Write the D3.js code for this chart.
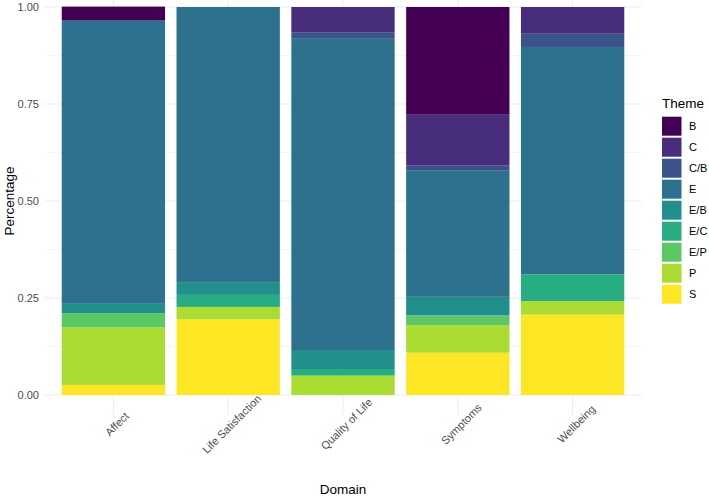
<!DOCTYPE html>
<html>
<head>
<meta charset="utf-8">
<script src="https://cdn.jsdelivr.net/npm/d3@7"></script>
<style>
  body { margin: 0; background: #fff; }
  text { font-family: "Liberation Sans", Arial, sans-serif; }
</style>
</head>
<body>
<div id="chart"></div>
<script>
const domains = ["Affect", "Life Satisfaction", "Quality of Life", "Symptoms", "Wellbeing"];
const themes = ["B", "C", "C/B", "E", "E/B", "E/C", "E/P", "P", "S"];
const themeColors = ["#440154", "#472D7B", "#3B528B", "#2C728E", "#21908C", "#27AD81", "#5DC863", "#AADC32", "#FDE725"];

// share of each theme per domain (order follows domains)
const B   = [0.036, 0,     0,     0.276, 0];
const C   = [0,     0,     0.065, 0.133, 0.069];
const CB  = [0,     0,     0.017, 0.013, 0.034];
const E   = [0.730, 0.709, 0.802, 0.325, 0.586];
const EB  = [0.024, 0.033, 0.049, 0.048, 0];
const EC  = [0,     0.031, 0.017, 0,     0.069];
const EP  = [0.037, 0,     0,     0.025, 0];
const P   = [0.148, 0.032, 0.050, 0.071, 0.035];
const S   = [0.026, 0.195, 0,     0.109, 0.207];

const yTicks = [0, 0.25, 0.5, 0.75, 1];
const yTickLabels = ["0.00", "0.25", "0.50", "0.75", "1.00"];

const width = 709, height = 496;
const series = [B, C, CB, E, EB, EC, EP, P, S];

// rows for the stack
const rows = domains.map((d, i) => {
  const r = { domain: d };
  themes.forEach((t, j) => r[t] = series[j][i]);
  return r;
});

const svg = d3.select("#chart").append("svg")
  .attr("width", width).attr("height", height);

// panel
const x = d3.scaleBand().domain(domains).range([44.5, 641.5]).paddingInner(0.1).paddingOuter(0.15);
const y = d3.scaleLinear().domain([0, 1]).range([395, 7]);

const panelTop = y(1.05), panelBottom = y(-0.05);

// minor grid
svg.append("g").selectAll("line")
  .data([0.125, 0.375, 0.625, 0.875])
  .enter().append("line")
    .attr("x1", 44.5).attr("x2", 641.5)
    .attr("y1", d => y(d)).attr("y2", d => y(d))
    .attr("stroke", "#ebebeb").attr("stroke-width", 0.5);

// major grid
svg.append("g").selectAll("line")
  .data(yTicks)
  .enter().append("line")
    .attr("x1", 44.5).attr("x2", 641.5)
    .attr("y1", d => y(d)).attr("y2", d => y(d))
    .attr("stroke", "#ebebeb").attr("stroke-width", 1);

svg.append("g").selectAll("line")
  .data(domains)
  .enter().append("line")
    .attr("x1", d => x(d) + x.bandwidth() / 2).attr("x2", d => x(d) + x.bandwidth() / 2)
    .attr("y1", panelTop).attr("y2", panelBottom)
    .attr("stroke", "#ebebeb").attr("stroke-width", 1);

// stacked bars, S at bottom, B on top
const stack = d3.stack().keys(themes.slice().reverse());
const color = d3.scaleOrdinal().domain(themes).range(themeColors);

svg.append("g").selectAll("g")
  .data(stack(rows))
  .enter().append("g")
    .attr("fill", d => color(d.key))
  .selectAll("rect")
  .data(d => d)
  .enter().append("rect")
    .attr("x", d => x(d.data.domain))
    .attr("width", x.bandwidth())
    .attr("y", d => y(d[1]))
    .attr("height", d => y(d[0]) - y(d[1]));

// y axis labels
svg.append("g").selectAll("text")
  .data(yTicks)
  .enter().append("text")
    .attr("x", 39)
    .attr("y", d => y(d))
    .attr("dy", "0.35em")
    .attr("text-anchor", "end")
    .attr("font-size", 11)
    .attr("fill", "#4d4d4d")
    .text((d, i) => yTickLabels[i]);

// x axis labels, rotated 45, centred
svg.append("g").selectAll("text")
  .data(domains)
  .enter().append("text")
    .attr("font-size", 11)
    .attr("fill", "#4d4d4d")
    .attr("text-anchor", "middle")
    .attr("dominant-baseline", "central")
    .attr("transform", d => `translate(${x(d) + x.bandwidth() / 2 + 3.5},424) rotate(-45)`)
    .text(d => d);

// axis titles
svg.append("text")
  .attr("x", 343).attr("y", 494)
  .attr("text-anchor", "middle")
  .attr("font-size", 13.5)
  .attr("fill", "#000")
  .text("Domain");

svg.append("text")
  .attr("transform", `translate(14,${y(0.5)}) rotate(-90)`)
  .attr("text-anchor", "middle")
  .attr("font-size", 13.5)
  .attr("fill", "#000")
  .text("Percentage");

// legend
const legend = svg.append("g");
legend.append("text")
  .attr("x", 662).attr("y", 108)
  .attr("font-size", 13.5)
  .attr("fill", "#000")
  .text("Theme");

const keys = legend.selectAll("g")
  .data(themes)
  .enter().append("g")
    .attr("transform", (d, i) => `translate(662,${116.7 + i * 21})`);

keys.append("rect")
  .attr("width", 19.5).attr("height", 19)
  .attr("fill", d => color(d));

keys.append("text")
  .attr("x", 27).attr("y", 9.5)
  .attr("dy", "0.35em")
  .attr("font-size", 11)
  .attr("fill", "#000")
  .text(d => d);
</script>
</body>
</html>
